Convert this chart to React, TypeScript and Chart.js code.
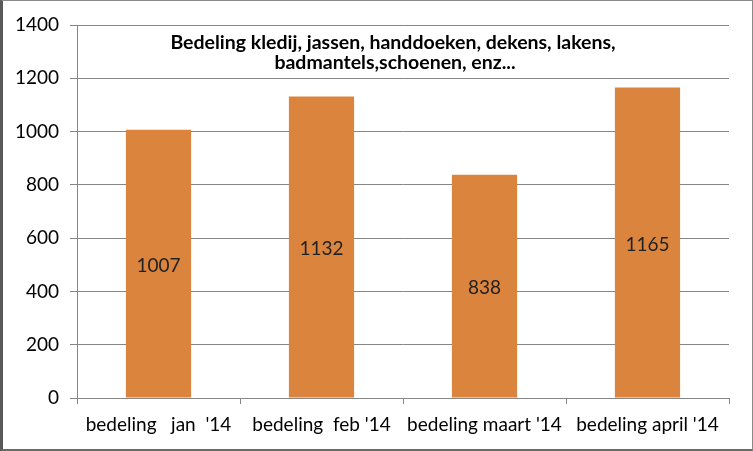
import React, { useEffect, useRef } from "react";
import { Chart, registerables } from "chart.js";

Chart.register(...registerables);

const categories = ["bedeling   jan  '14", "bedeling  feb '14", "bedeling maart '14", "bedeling april '14"];
const values = [1007, 1132, 838, 1165];
const titleLines = ["Bedeling kledij, jassen, handdoeken, dekens, lakens,", "badmantels,schoenen, enz..."];
const yMax = 1400;
const yStep = 200;

const FONT = "Lato, 'Open Sans', sans-serif";

export default function App() {
  const ref = useRef<HTMLCanvasElement | null>(null);
  useEffect(() => {
    if (!ref.current) return;
    const overlay = {
      id: "overlay",
      afterDatasetsDraw(chart: any) {
        const ctx = chart.ctx;
        const area = chart.chartArea;
        ctx.save();
        ctx.fillStyle = "#000";
        ctx.textAlign = "center";
        ctx.textBaseline = "alphabetic";
        ctx.font = `bold 19.5px ${FONT}`;
        const cx = (area.left + area.right) / 2;
        ctx.fillText(titleLines[0], cx - 10, area.top + 24);
        ctx.fillText(titleLines[1], cx - 8, area.top + 44);
        ctx.textBaseline = "middle";
        ctx.font = `19px ${FONT}`;
        ctx.fillStyle = "#222";
        const meta = chart.getDatasetMeta(0);
        meta.data.forEach((bar: any, i: number) => {
          const y = (bar.y + bar.base) / 2;
          ctx.fillText(String(values[i]), bar.x, y + 2);
        });
        ctx.restore();
      },
    };
    const chart = new Chart(ref.current, {
      type: "bar",
      data: {
        labels: categories,
        datasets: [
          {
            data: values,
            backgroundColor: "#DB843E",
            barPercentage: 0.4,
            categoryPercentage: 1,
          },
        ],
      },
      options: {
        animation: false,
        responsive: false,
        maintainAspectRatio: false,
        layout: { padding: { top: 25, right: 20, left: 0, bottom: 0 } },
        plugins: { legend: { display: false }, tooltip: { enabled: false }, title: { display: false } },
        scales: {
          x: {
            grid: { drawOnChartArea: false, drawTicks: true, tickLength: 6, color: "#868686" },
            border: { display: true, color: "#868686" },
            ticks: { color: "#000", font: { family: FONT, size: 19 }, padding: 9, maxRotation: 0, autoSkip: false },
            afterFit(scale: any) {
              scale.height = 50;
            },
          },
          y: {
            min: 0,
            max: yMax,
            grid: { color: "#868686", tickLength: 7, drawTicks: true },
            border: { display: true, color: "#868686" },
            ticks: {
              stepSize: yStep,
              color: "#000",
              font: { family: FONT, size: 19 },
              padding: 11,
              callback: (v: any) => String(v),
            },
            afterFit(scale: any) {
              scale.width = 77;
            },
          },
        },
      },
      plugins: [overlay],
    });
    return () => chart.destroy();
  }, []);
  return (
    <div
      style={{
        position: "fixed",
        left: 0,
        top: 0,
        width: 753,
        height: 451,
        boxSizing: "border-box",
        borderLeft: "3px solid #595959",
        borderTop: "1px solid #8a8a8a",
        borderRight: "1px solid #8a8a8a",
        borderBottom: "2px solid #6a6a6a",
        background: "#fff",
      }}
    >
      <canvas ref={ref} width={749} height={448} style={{ display: "block", marginLeft: -3, marginTop: -1, width: 749, height: 448 }} />
    </div>
  );
}
